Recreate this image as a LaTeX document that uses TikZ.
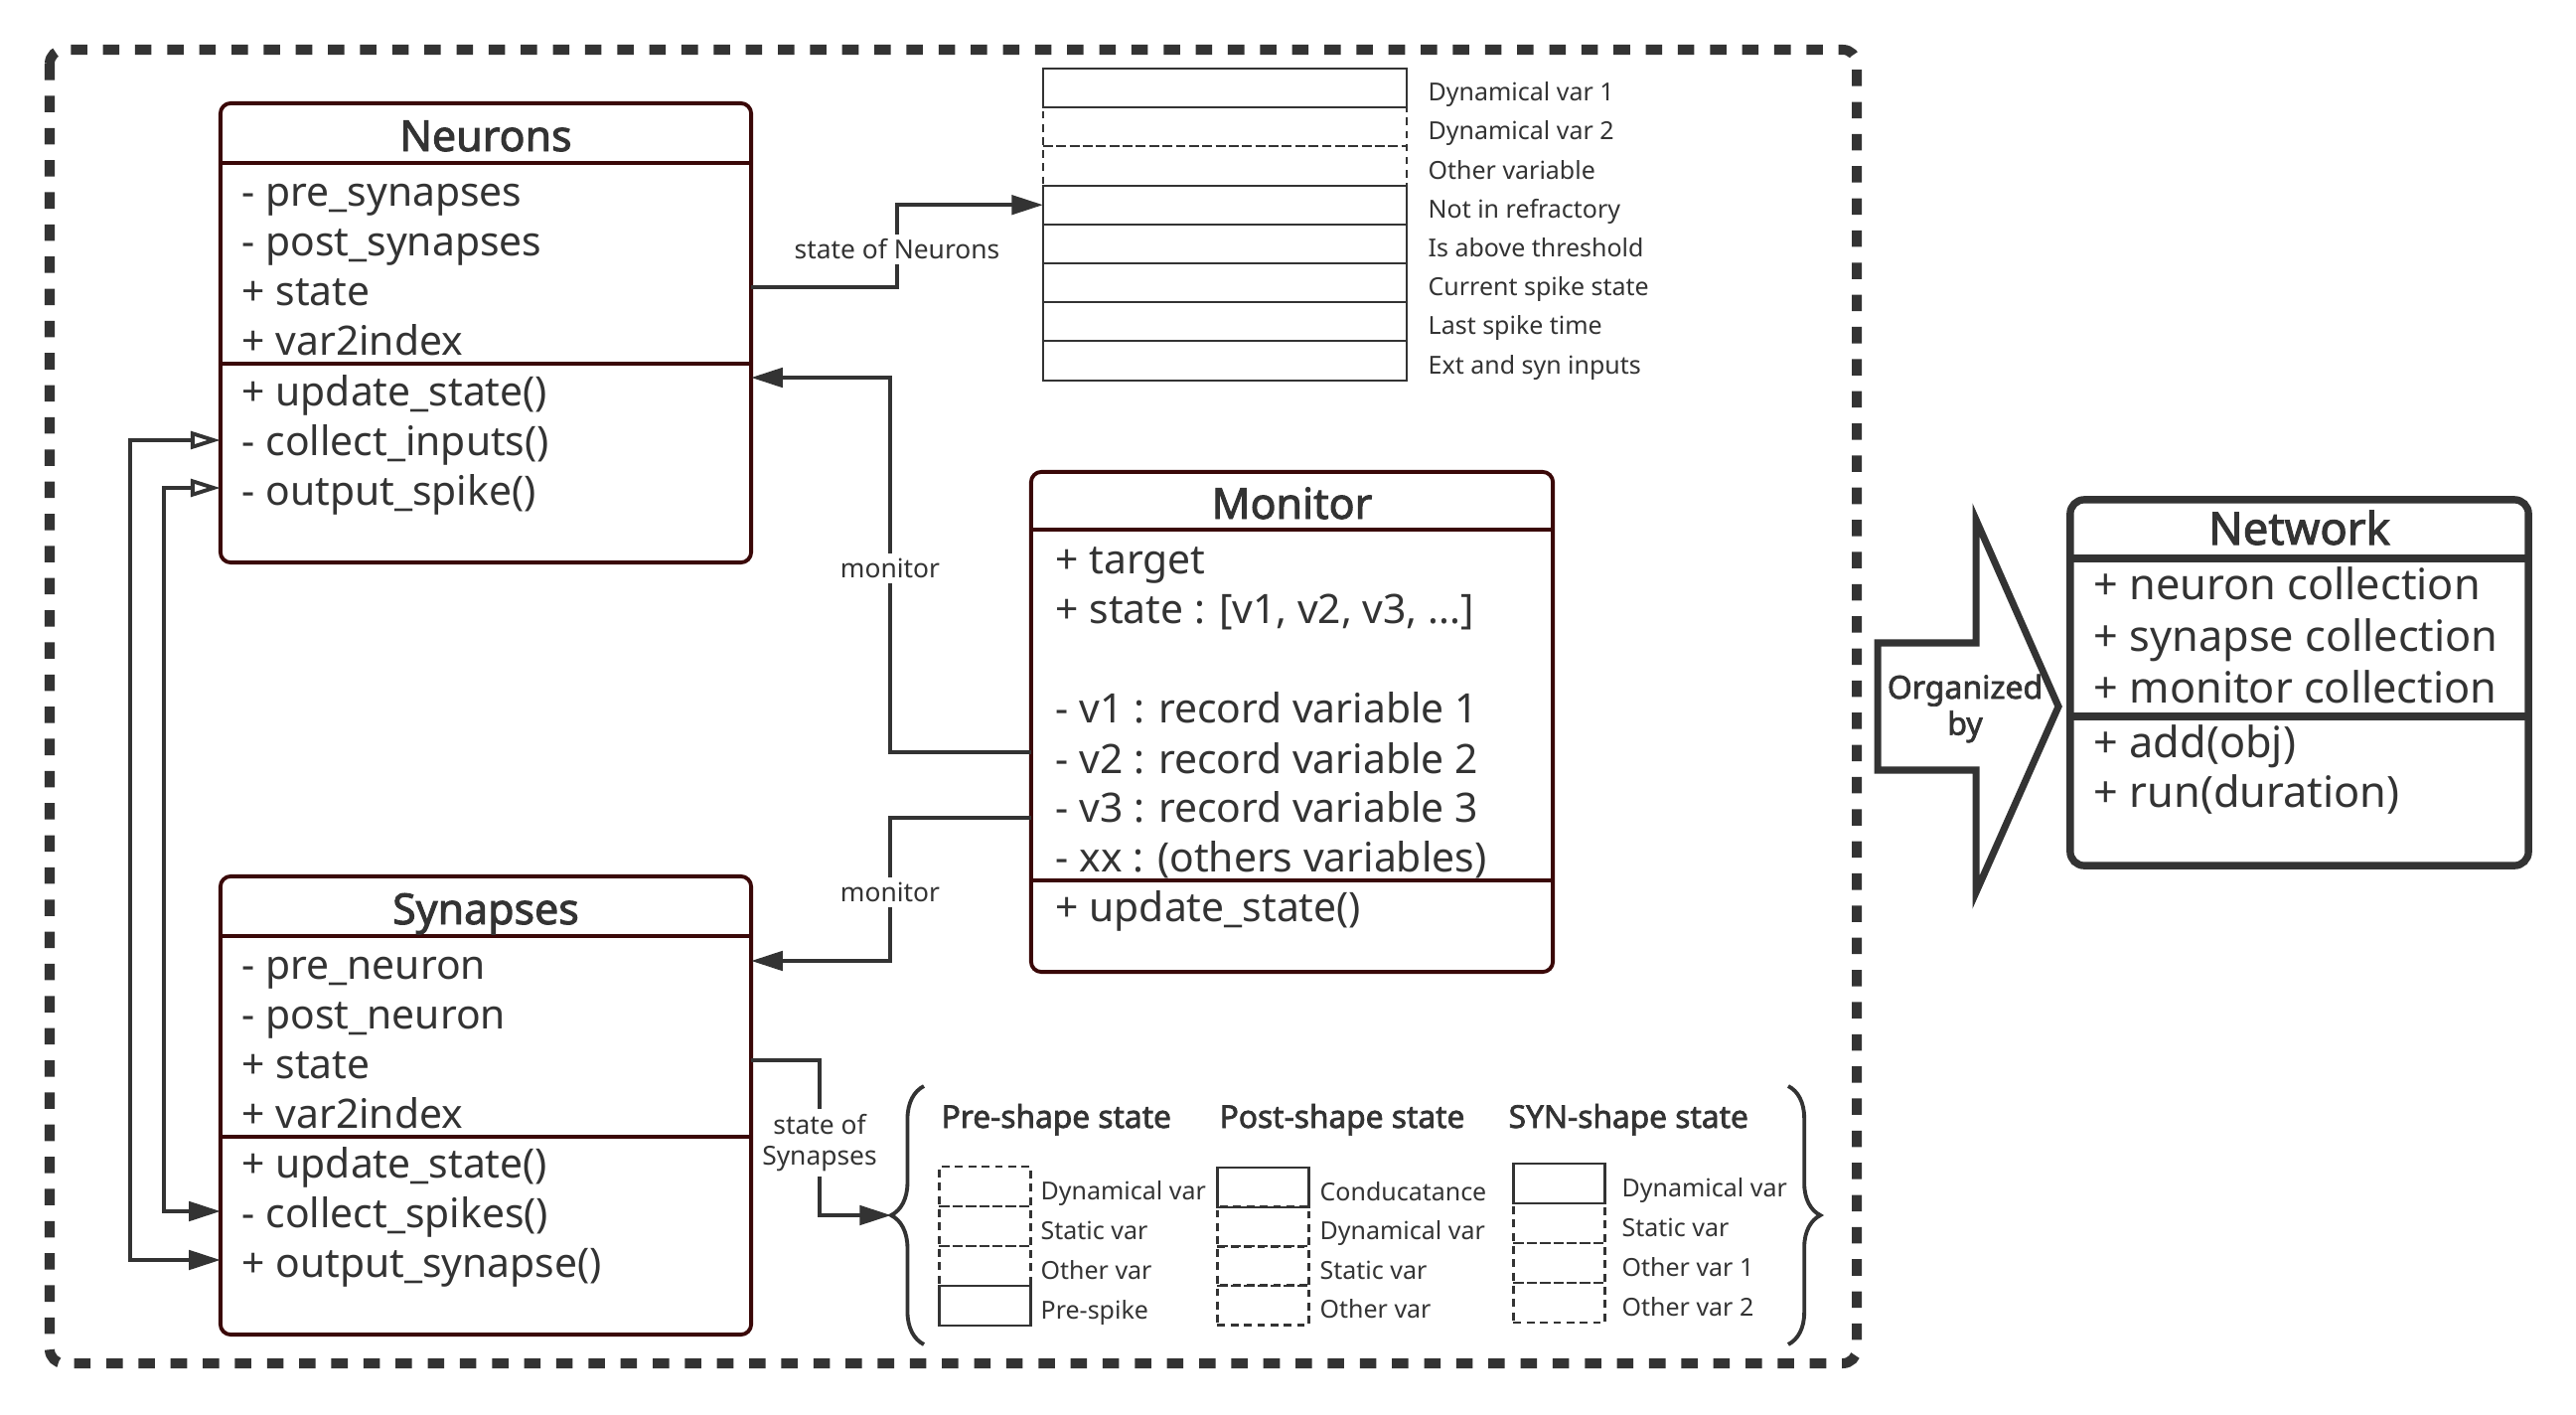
\documentclass[tikz,border=0pt]{standalone}
\usepackage{fontspec}
\setmainfont{Noto Sans}[BoldFont={Noto Sans}, BoldFeatures={FakeBold=2.2}]
\usetikzlibrary{arrows.meta,decorations.pathreplacing}

\definecolor{ink}{HTML}{333333}
\definecolor{umlred}{HTML}{3A0808}

\tikzset{
  umlbox/.style={draw=umlred, line width=1.1pt, rounded corners=3pt, inner sep=0pt, outer sep=0pt},
  umlline/.style={draw=umlred, line width=1.1pt},
  umltitle/.style={anchor=base, inner sep=0pt, text=ink, font=\fontsize{12.2pt}{14pt}\selectfont\bfseries},
  umlrow/.style={anchor=base west, inner sep=0pt, text=ink, font=\fontsize{11.6pt}{14pt}\selectfont},
  netrow/.style={umlrow, font=\fontsize{12.3pt}{14pt}\selectfont},
  wire/.style={draw=ink, line width=1.1pt},
  arrowend/.style={-{Triangle[length=9pt,width=5.5pt]}},
  wirelabel/.style={fill=white, inner sep=1.5pt, text=ink, font=\fontsize{7.5pt}{8.6pt}\selectfont},
  cell/.style={draw=ink, line width=0.6pt, inner sep=0pt, outer sep=0pt, minimum width=3.66cm, minimum height=0.392cm},
  dcell/.style={cell, dash pattern=on 2.2pt off 1.6pt},
  lcell/.style={cell, minimum width=0.92cm, minimum height=0.40cm},
  dlcell/.style={lcell, dash pattern=on 2.2pt off 1.6pt},
  cellname/.style={anchor=base west, inner sep=0pt, text=ink, font=\fontsize{7.1pt}{9pt}\selectfont},
  shapehead/.style={anchor=base west, inner sep=0pt, text=ink, font=\fontsize{9pt}{10pt}\selectfont\bfseries},
}

\begin{document}
\begin{tikzpicture}[x=0.01cm, y=-0.01cm]
  \useasboundingbox (0,0) rectangle (2593,1424);
  \fill[white] (0,0) rectangle (2593,1424);

  % frame round the model objects
  \draw[ink, line width=2.85pt, dash pattern=on 4.7pt off 4.5pt, rounded corners=4pt] (50,50) rectangle (1869,1372);

  % Neurons
  \node[umlbox, minimum width=5.34cm, minimum height=4.62cm] (neurons) at (489,335) {};
  \draw[umlline] (neurons.west |- 0,164) -- (neurons.east |- 0,164);
  \draw[umlline] (neurons.west |- 0,366) -- (neurons.east |- 0,366);
  \node[umltitle] (ntitle) at (489,152) {Neurons};
  \node[umlrow] (npre) at (243,207) {- pre\_synapses};
  \node[umlrow] (npost) at (243,257) {- post\_synapses};
  \node[umlrow] (nstate) at (243,307) {+ state};
  \node[umlrow] (nindex) at (243,357) {+ var2index};
  \node[umlrow] (nupdate) at (243,408) {+ update\_state()};
  \node[umlrow] (ncollect) at (243,458) {- collect\_inputs()};
  \node[umlrow] (noutput) at (243,508) {- output\_spike()};

  % Synapses
  \node[umlbox, minimum width=5.34cm, minimum height=4.61cm] (synapses) at (489,1112.5) {};
  \draw[umlline] (synapses.west |- 0,942) -- (synapses.east |- 0,942);
  \draw[umlline] (synapses.west |- 0,1144) -- (synapses.east |- 0,1144);
  \node[umltitle] (stitle) at (489,930) {Synapses};
  \node[umlrow] (spre) at (243,985) {- pre\_neuron};
  \node[umlrow] (spost) at (243,1035) {- post\_neuron};
  \node[umlrow] (sstate) at (243,1085) {+ state};
  \node[umlrow] (sindex) at (243,1135) {+ var2index};
  \node[umlrow] (supdate) at (243,1185) {+ update\_state()};
  \node[umlrow] (scollect) at (243,1235) {- collect\_spikes()};
  \node[umlrow] (soutput) at (243,1285) {+ output\_synapse()};

  % Monitor
  \node[umlbox, minimum width=5.25cm, minimum height=5.03cm] (monitor) at (1300.5,726.5) {};
  \draw[umlline] (monitor.west |- 0,533) -- (monitor.east |- 0,533);
  \draw[umlline] (monitor.west |- 0,886) -- (monitor.east |- 0,886);
  \node[umltitle] (mtitle) at (1300.5,522) {Monitor};
  \node[umlrow] (mtarget) at (1062,577) {+ target};
  \node[umlrow] (mstate) at (1062,627) {+ state : [v1, v2, v3, ...]};
  \node[umlrow] (mvone) at (1062,727) {- v1 : record variable 1};
  \node[umlrow] (mvtwo) at (1062,778) {- v2 : record variable 2};
  \node[umlrow] (mvthree) at (1062,827) {- v3 : record variable 3};
  \node[umlrow] (mxx) at (1062,877) {- xx : (others variables)};
  \node[umlrow] (mupdate) at (1062,927) {+ update\_state()};

  % state of Neurons
  \node[cell] (ndyn1) at (1233,88.6) {};
  \node[dcell] (ndyn2) at (1233,127.8) {};
  \node[dcell] (nother) at (1233,167.0) {};
  \node[cell] (nrefr) at (1233,206.2) {};
  \node[cell] (nabove) at (1233,245.4) {};
  \node[cell] (nspike) at (1233,284.6) {};
  \node[cell] (nlast) at (1233,323.8) {};
  \node[cell] (ninput) at (1233,363.0) {};
  \node[cellname] (lndyn1) at (1437,101.6) {Dynamical var 1};
  \node[cellname] (lndyn2) at (1437,140.8) {Dynamical var 2};
  \node[cellname] (lnother) at (1437,180.0) {Other variable};
  \node[cellname] (lnrefr) at (1437,219.2) {Not in refractory};
  \node[cellname] (lnabove) at (1437,258.4) {Is above threshold};
  \node[cellname] (lnspike) at (1437,297.6) {Current spike state};
  \node[cellname] (lnlast) at (1437,336.8) {Last spike time};
  \node[cellname] (lninput) at (1437,376.0) {Ext and syn inputs};

  % state of Synapses
  \node[shapehead] (hpre) at (947,1135) {Pre-shape state};
  \node[shapehead] (hpost) at (1227,1135) {Post-shape state};
  \node[shapehead] (hsyn) at (1518,1135) {SYN-shape state};
  \node[dlcell] (pdyn) at (991.5,1194) {};
  \node[dlcell] (pstatic) at (991.5,1234) {};
  \node[dlcell] (pother) at (991.5,1274) {};
  \node[lcell] (pspike) at (991.5,1314) {};
  \node[lcell] (qcond) at (1271.5,1195) {};
  \node[dlcell] (qdyn) at (1271.5,1234.5) {};
  \node[dlcell] (qstatic) at (1271.5,1274) {};
  \node[dlcell] (qother) at (1271.5,1313.5) {};
  \node[lcell] (rdyn) at (1569.5,1191) {};
  \node[dlcell] (rstatic) at (1569.5,1231) {};
  \node[dlcell] (rother1) at (1569.5,1271) {};
  \node[dlcell] (rother2) at (1569.5,1311) {};
  \node[cellname] (lpdyn) at (1047,1207) {Dynamical var};
  \node[cellname] (lpstatic) at (1047,1247) {Static var};
  \node[cellname] (lpother) at (1047,1287) {Other var};
  \node[cellname] (lpspike) at (1047,1327) {Pre-spike};
  \node[cellname] (lqcond) at (1328,1208) {Conducatance};
  \node[cellname] (lqdyn) at (1328,1247.5) {Dynamical var};
  \node[cellname] (lqstatic) at (1328,1287) {Static var};
  \node[cellname] (lqother) at (1328,1326.5) {Other var};
  \node[cellname] (lrdyn) at (1632,1204) {Dynamical var};
  \node[cellname] (lrstatic) at (1632,1244) {Static var};
  \node[cellname] (lrother1) at (1632,1284) {Other var 1};
  \node[cellname] (lrother2) at (1632,1324) {Other var 2};
  \draw[wire, decorate, decoration={brace, amplitude=9.4pt}] (930,1353) -- (930,1093);
  \draw[wire, decorate, decoration={brace, amplitude=9.2pt}] (1800,1093) -- (1800,1353);
  \coordinate (btip) at (897,1223);

  % connectors
  \draw[wire, arrowend] (neurons.east |- 0,289) -| (903,0 |- nrefr.west) -- (nrefr.west);
  \draw[wire, arrowend] (monitor.west |- 0,757) -| (896,380) -- (neurons.east |- 0,380);
  \draw[wire, arrowend] (monitor.west |- 0,823) -| (896,967) -- (synapses.east |- 0,967);
  \draw[wire, arrowend] (synapses.east |- 0,1067) -| (825,1223) -- (btip);
  \draw[wire, {Triangle[open,length=8.5pt,width=5pt]}-{Triangle[length=9pt,width=5.5pt]}] (neurons.west |- 0,443) -| (131,855) |- (synapses.west |- 0,1268);
  \draw[wire, {Triangle[open,length=8.5pt,width=5pt]}-{Triangle[length=9pt,width=5.5pt]}] (neurons.west |- 0,491) -| (165,855) |- (synapses.west |- 0,1219);
  \node[wirelabel] (lstn) at (903,251) {state of Neurons};
  \node[wirelabel] (lmon1) at (896,572) {monitor};
  \node[wirelabel] (lmon2) at (896,898) {monitor};
  \node[wirelabel, align=center] (lsts) at (825,1150) {state of\\Synapses};

  % Network
  \draw[ink, line width=2pt, line join=miter] (1890,647) -- (1989,647) -- (1989,523) -- (2072,711) -- (1989,898) -- (1989,775) -- (1890,775) -- cycle;
  \node[text=ink, inner sep=0pt, align=center, font=\fontsize{9.1pt}{10.4pt}\selectfont\bfseries] (organized) at (1978,713) {Organized\\by};
  \node[draw=ink, line width=2.1pt, rounded corners=4pt, inner sep=0pt, outer sep=0pt, minimum width=4.61cm, minimum height=3.68cm] (network) at (2314.5,687) {};
  \draw[ink, line width=2.1pt] (network.west |- 0,562) -- (network.east |- 0,562);
  \draw[ink, line width=2.1pt] (network.west |- 0,721) -- (network.east |- 0,721);
  \node[umltitle, font=\fontsize{12.9pt}{14pt}\selectfont\bfseries] (wtitle) at (2314.5,548) {Network};
  \node[netrow] (wneuron) at (2107,603) {+ neuron collection};
  \node[netrow] (wsynapse) at (2107,655) {+ synapse collection};
  \node[netrow] (wmonitor) at (2107,707) {+ monitor collection};
  \node[netrow] (wadd) at (2107,762) {+ add(obj)};
  \node[netrow] (wrun) at (2107,812) {+ run(duration)};
\end{tikzpicture}
\end{document}
